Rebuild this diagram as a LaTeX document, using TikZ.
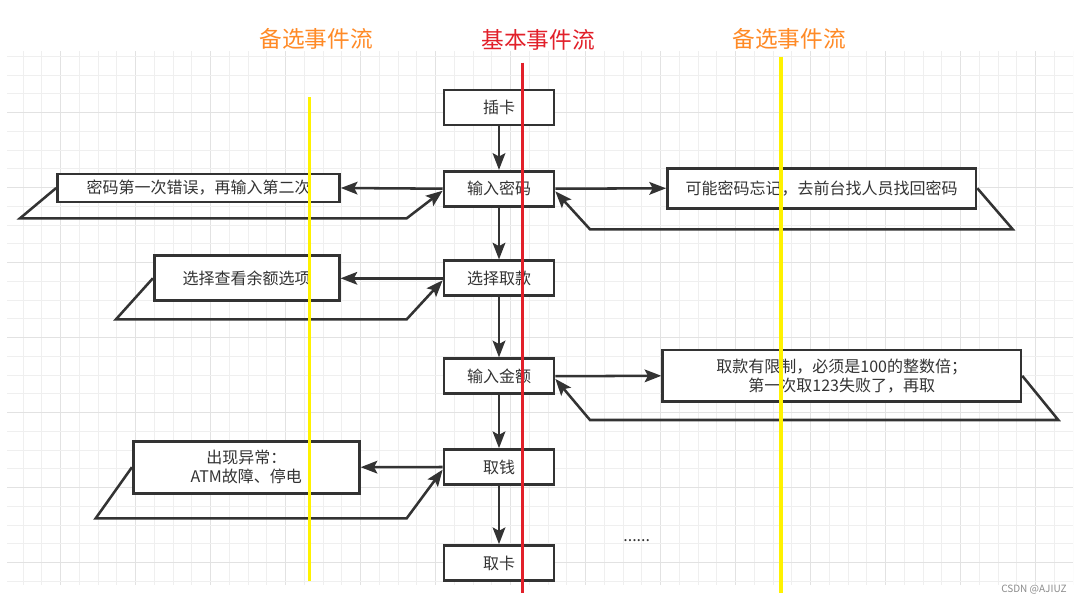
\documentclass[tikz,border=0pt]{standalone}
\usepackage{fontspec}
\setmainfont{Noto Sans CJK SC}
\usetikzlibrary{arrows.meta}
\definecolor{ink}{HTML}{333333}
\definecolor{gridminor}{HTML}{EFEFEF}
\definecolor{gridmajor}{HTML}{E2E2E2}
\definecolor{altorange}{HTML}{FF8A26}
\definecolor{basered}{HTML}{E2202A}
\definecolor{laneyellow}{HTML}{FFF200}
\definecolor{mark}{HTML}{8C8C8C}
\tikzset{
  box/.style={draw=ink, line width=2pt, fill=white, inner sep=0pt, text=ink,
    font=\fontsize{12}{14.5}\selectfont, align=center},
  mainbox/.style={box, minimum width=82.5pt, minimum height=26.25pt},
  edge/.style={draw=ink, line width=1.9pt, -{Stealth[length=12.5pt,width=9.5pt,inset=2.5pt]}},
  feedback/.style={edge, line join=miter},
  lane/.style={line width=2.3pt},
  lanetitle/.style={font=\fontsize{17}{20}\selectfont},
}
\begin{document}
\begin{tikzpicture}[x=0.75pt,y=-0.75pt]
\useasboundingbox (0,0) rectangle (1082,604);
\fill[white] (0,0) rectangle (1082,604);
% grid
\begin{scope}
\clip (7,51) rectangle (1073,585);
\foreach \k in {-3,...,54}{
  \pgfmathsetmacro{\gx}{60.7+18.75*\k}
  \pgfmathtruncatemacro{\m}{mod(\k+400,4)}
  \ifnum\m=0
    \draw[gridmajor, line width=0.85pt] (\gx,51) -- (\gx,585);
  \else
    \draw[gridminor, line width=0.8pt] (\gx,51) -- (\gx,585);
  \fi
}
\foreach \k in {-4,...,25}{
  \pgfmathsetmacro{\gy}{112.7+18.75*\k}
  \pgfmathtruncatemacro{\m}{mod(\k+400,4)}
  \ifnum\m=0
    \draw[gridmajor, line width=0.85pt] (7,\gy) -- (1073,\gy);
  \else
    \draw[gridminor, line width=0.8pt] (7,\gy) -- (1073,\gy);
  \fi
}
\end{scope}

% main flow
\node[mainbox] (b1) at (499,107.5) {插卡};
\node[mainbox] (b2) at (499,188.7) {输入密码};
\node[mainbox] (b3) at (499,278.3) {选择取款};
\node[mainbox] (b4) at (499,376.2) {输入金额};
\node[mainbox] (b5) at (499,467) {取钱};
\node[mainbox] (b6) at (499,563) {取卡};

% alternative boxes
\node[box, minimum width=211.5pt, minimum height=21pt] (l1) at (198.5,188) {密码第一次错误，再输入第二次};
\node[box, minimum width=138.75pt, minimum height=33.75pt] (l2) at (246.7,278.3) {选择查看余额选项};
\node[box, minimum width=169.5pt, minimum height=39pt] (l3) at (246.3,467.2) {出现异常：\\ATM故障、停电};
\node[box, minimum width=231.5pt, minimum height=30pt] (r1) at (821.7,188.3) {可能密码忘记，去前台找人员找回密码};
\node[box, minimum width=268.7pt, minimum height=38.8pt] (r2) at (841.8,375.8) {取款有限制，必须是100的整数倍；\\第一次取123失败了，再取};

% main arrows
\draw[edge] (b1) -- (b2);
\draw[edge] (b2) -- (b3);
\draw[edge] (b3) -- (b4);
\draw[edge] (b4) -- (b5);
\draw[edge] (b5) -- (b6);

% branch arrows
\draw[edge] (b2.west) -- (l1.east);
\draw[edge] (b3.west) -- (l2.east);
\draw[edge] (b5.west) -- (l3.east);
\draw[edge] (b2.east) -- (r1.west);
\draw[edge] (b4.east) -- (r2.west);

% feedback arrows
\draw[feedback] (l1.west) -- (20,218.3) -- (406.7,218.3) -- ([yshift=-1.5pt]b2.west);
\draw[feedback] (l2.west) -- (116,319.3) -- (406.7,319.3) -- ([yshift=-1.5pt]b3.west);
\draw[feedback] (l3.west) -- (95.7,518.3) -- (406.7,518.3) -- ([yshift=-2pt]b5.west);
\draw[feedback] (r1.east) -- (1012.7,229.3) -- (590,229.3) -- ([yshift=-2pt]b2.east);
\draw[feedback] (r2.east) -- (1058.3,420) -- (590,420) -- ([yshift=-2pt]b4.east);

% texts
\node[text=ink, anchor=base, font=\fontsize{12}{14}\selectfont] (dots) at (636.7,541) {......};
\node[text=mark, font=\fontsize{7.5}{9}\selectfont] (wm) at (1034,590) {CSDN @AJIUZ};

% lanes
\node[lanetitle, text=altorange] (t1) at (316,38.5) {备选事件流};
\node[lanetitle, text=basered] (t2) at (538,39.5) {基本事件流};
\node[lanetitle, text=altorange] (t3) at (789,38.5) {备选事件流};
\coordinate (y1a) at (309.3,97.3);
\coordinate (y1b) at (309.3,580.7);
\coordinate (ra) at (522.7,62.7);
\coordinate (rb) at (522.7,592.7);
\coordinate (y2a) at (781,56.7);
\coordinate (y2b) at (781,593.3);
\draw[lane, draw=laneyellow] (y1a) -- (y1b);
\draw[lane, draw=basered] (ra) -- (rb);
\draw[lane, draw=laneyellow] (y2a) -- (y2b);
\end{tikzpicture}
\end{document}
